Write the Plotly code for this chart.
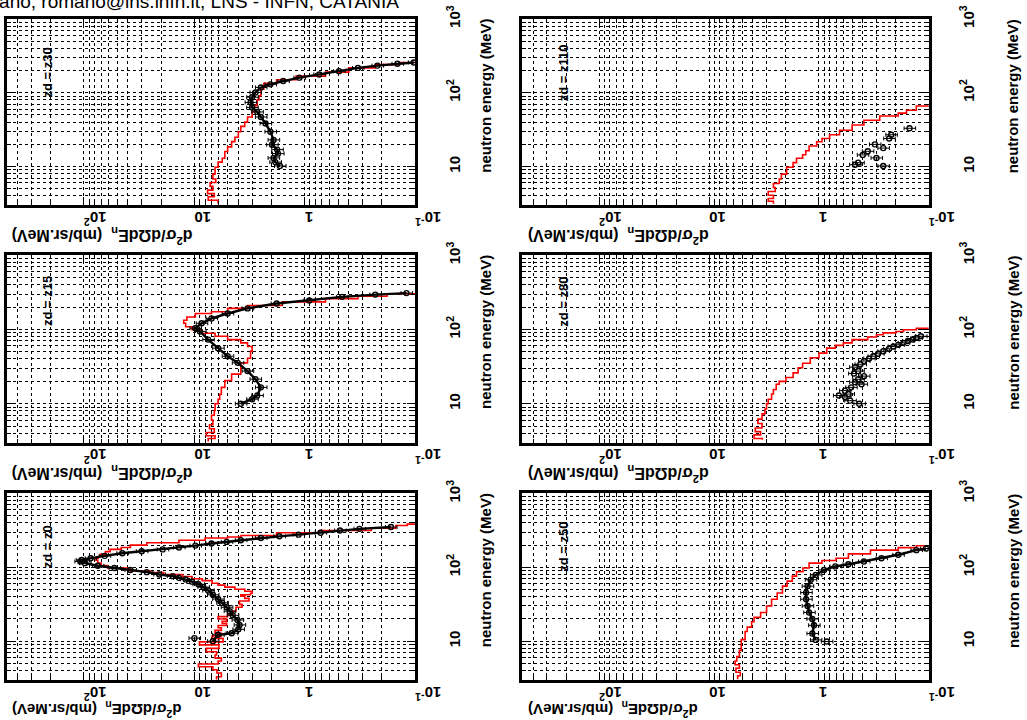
import math
import plotly.graph_objects as go

W, H = 1027, 720

# ---------------- data ----------------
# neutron energy (MeV) and d2sigma/dOmega dE (mb/sr.MeV)
z0_exp_E = [11.0, None, 10.0, 12.2, 12.8, 14.5, 16.6, 19.4, 22.4, 25.5, 28.8, 33, 37.2, 42.5, 48.5, 54, 59, 64, 68.6, 72, 76, 80, 86, 92, 98, 105, 114, 120, 126, 133, 143, 155, 165, 175, 186, 197, 210, 221, 233, 250, 263, 277, 294, 316, 332, 351]
z0_exp_V = [10.0, None, 6.8, 6.1, 4.6, 4.0, 3.9, 4.07, 4.5, 4.8, 5.1, 5.6, 6.1, 6.8, 7.5, 8.3, 9.2, 10.5, 12, 13.8, 15.7, 20.8, 27, 38, 53, 75, 98, 108, 105, 87, 65, 45, 30, 19.4, 13.8, 9.8, 7.0, 5.1, 3.8, 2.5, 1.7, 1.14, 0.72, 0.48, 0.32, 0.166]
z0_calc_E = [3.0, 3.3, 3.7, 4.1, 4.5, 4.9, 5.4, 5.9, 6.5, 7.2, 8.0, 8.9, 9.8, 10.9, 11.8, 12.8, 14, 15.2, 16.3, 17.4, 18.6, 20, 21.5, 23, 25.5, 28.8, 31.5, 35, 38, 40.6, 42.5, 44.6, 47.5, 50.6, 54, 57.5, 61, 66, 70, 75, 80, 85, 89, 98, 106, 114, 125, 133, 140, 150, 163, 175, 186, 200, 215, 233, 250, 258, 270, 294, 316, 340, 368, 385]
z0_calc_V = [6.3, 5.7, 6.25, 6.8, 9.2, 6.1, 5.7, 6.5, 6.3, 7.8, 6.0, 9.0, 5.5, 6.9, 5.7, 6.5, 5.7, 6.1, 5.1, 5.6, 5.1, 6.1, 5.0, 4.5, 4.2, 3.7, 3.9, 3.2, 3.5, 3.8, 3.1, 3.0, 3.5, 4.3, 5.3, 6.1, 6.9, 8.5, 10.5, 12.8, 19, 25, 38, 61, 70, 75, 78, 74, 71, 64, 58, 46, 38, 27, 13.8, 8.0, 5.0, 3.78, 1.8, 0.74, 0.25, 0.15, 0.118, 0.1]

z15_exp_E = [10, 11.5, 12.9, 16.6, 21.4, 27.5, 35.5, 43.6, 56, 73, 94, 104, 121, 141, 164, 192, 224, 246, 275, 295, 309]
z15_exp_V = [3.8, 3.0, 2.7, 2.5, 2.8, 3.3, 4.05, 5.0, 6.1, 7.5, 8.9, 9.8, 8.6, 7.0, 5.0, 3.3, 1.8, 0.91, 0.46, 0.23, 0.12]
z15_calc_E = [3.1, 3.4, 3.7, 4.1, 4.6, 5.2, 6.0, 7.0, 8.1, 10, 11.5, 13.4, 16.6, 20.5, 23, 25, 30, 35.5, 41, 51, 59, 66, 73, 81, 89, 99, 109, 121, 133, 147, 164, 173, 192, 210, 235, 260, 280, 303]
z15_calc_V = [7.5, 6.5, 7.8, 6.6, 7.3, 6.8, 7.0, 6.6, 6.5, 6.1, 5.9, 5.7, 5.3, 4.6, 4.6, 3.8, 3.8, 3.3, 3.1, 3.0, 3.3, 3.8, 5.0, 6.5, 8.6, 10.5, 12, 12.5, 11.7, 9.8, 7.0, 5.0, 3.3, 1.6, 0.65, 0.33, 0.18, 0.10]

z30_exp_E = [10.2, 11.5, 13.1, 15, 17, 19.8, 23, 29.7, 38.3, 47, 55, 63, 74, 87, 101, 118, 130, 144, 160, 177, 196, 217, 233, 247, 257]
z30_exp_V = [1.68, 1.85, 1.92, 1.75, 1.78, 1.98, 1.92, 2.05, 2.27, 2.5, 2.7, 3.0, 3.1, 3.0, 2.8, 2.5, 2.05, 1.57, 1.12, 0.74, 0.49, 0.33, 0.22, 0.145, 0.103]
z30_calc_E = [3.15, 3.5, 3.9, 4.3, 4.8, 5.4, 6.1, 6.8, 7.9, 9.8, 11.5, 13, 16, 18.5, 21.8, 25, 29.7, 35, 40, 47, 55, 67, 80, 91, 112, 134, 150, 168, 190, 217, 240, 257]
z30_calc_V = [6.1, 7.5, 6.6, 7.6, 6.8, 7.2, 6.4, 6.8, 6.5, 6.1, 5.6, 5.3, 5.0, 4.6, 4.3, 4.0, 3.8, 3.5, 3.3, 3.0, 2.85, 2.7, 2.6, 2.5, 2.35, 1.8, 1.2, 0.65, 0.4, 0.23, 0.14, 0.1]

z50_exp_E = [9.9, None, 10.4, 12.7, 16.4, 20, 24.5, 30, 37, 45.5, 55.6, 68, 79, 92, 103, 110, 120, 133, 148, 171, 180]
z50_exp_V = [0.85, None, 1.07, 1.15, 1.11, 1.15, 1.23, 1.27, 1.31, 1.31, 1.27, 1.19, 1.07, 0.9, 0.71, 0.54, 0.39, 0.27, 0.19, 0.13, 0.106]
z50_calc_E = [3.06, 3.4, 3.8, 4.3, 4.8, 5.4, 6.2, 7.5, 8.9, 10.5, 13.5, 15.5, 18.3, 21, 24.5, 30, 37, 45, 55.6, 65, 76, 87, 98, 114, 124, 133, 152, 171, 185, 196]
z50_calc_V = [5.5, 5.2, 5.7, 5.3, 5.8, 5.6, 5.3, 5.1, 5.1, 4.7, 4.5, 4.1, 3.9, 3.4, 3.0, 2.7, 2.4, 2.15, 1.95, 1.75, 1.6, 1.4, 1.23, 0.94, 0.7, 0.54, 0.34, 0.19, 0.13, 0.1]

z80_exp_E = [10.0, 11.0, 12.3, 12.9, 13.5, 15, 16.6, 18.3, 19.5, 21.3, 23.5, 25.5, 27.5, 31, 34, 37.5, 40.5, 43.6, 47, 51, 55, 59, 62, 66, 70, 73, 77, 81]
z80_exp_V = [0.43, 0.52, 0.58, 0.66, 0.54, 0.58, 0.51, 0.41, 0.47, 0.44, 0.39, 0.48, 0.44, 0.47, 0.42, 0.39, 0.35, 0.32, 0.29, 0.26, 0.23, 0.21, 0.19, 0.17, 0.155, 0.14, 0.13, 0.118]
z80_calc_E = [3.26, 3.4, 3.8, 4.2, 4.7, 5.4, 6.2, 7.3, 8.5, 10, 11.5, 13.5, 15.5, 18.3, 20, 22.5, 26, 30.5, 35, 41.6, 48, 56, 61, 66, 73, 79, 85, 90, 94, 99, 104]
z80_calc_V = [3.28, 3.9, 3.4, 3.8, 3.3, 3.6, 3.3, 3.1, 3.0, 2.9, 2.7, 2.6, 2.45, 2.3, 2.0, 1.72, 1.55, 1.41, 1.2, 1.0, 0.85, 0.71, 0.6, 0.5, 0.36, 0.3, 0.26, 0.2, 0.17, 0.13, 0.1]

z110_exp_E = [10.2, 10.6, 11.3, 13.1, 14.4, 16.1, 17.8, 20, 24, 27, 33]
z110_exp_V = [0.26, 0.47, 0.44, 0.30, 0.40, 0.36, 0.26, 0.31, 0.23, 0.22, 0.15]
z110_calc_E = [3.15, 3.4, 3.7, 4.1, 4.6, 5.2, 5.9, 6.8, 7.9, 9.8, 11.3, 13, 14.5, 16.4, 19, 21.7, 24, 27, 31, 36.5, 42.5, 48.5, 53, 58, 66]
z110_calc_V = [2.6, 2.9, 2.6, 2.9, 2.5, 2.6, 2.3, 2.2, 1.97, 1.72, 1.6, 1.41, 1.32, 1.23, 1.05, 0.94, 0.8, 0.65, 0.5, 0.39, 0.28, 0.19, 0.16, 0.13, 0.1]

panel_labels = ["zd = z0", "zd = z15", "zd = z30", "zd = z50", "zd = z80", "zd = z110"]

E_tickvals = [10, 100, 1000]
E_ticktext = ["<b>10</b>", "<b>10<sup>2</sup></b>", "<b>10<sup>3</sup></b>"]
V_tickvals = [0.1, 1, 10, 100]
V_ticktext = ["<b>10<sup>-1</sup></b>", "<b>1</b>", "<b>10</b>", "<b>10<sup>2</sup></b>"]

E_range = [3, 1000]
V_range = [500, 0.1]

x_title = "<b>neutron energy (MeV)</b>"
y_title = "<b>d<sup>2</sup>σ/dΩdE<sub>n</sub>  (mb/sr.MeV)</b>"
header = "Romano, romano@lns.infn.it, LNS - INFN, CATANIA"

# ---------------- layout geometry (pixels) ----------------
COLS = [(7, 426), (536, 953)]
ROWS = [(5, 195), (246, 437), (489, 679)]

panels = [
    (z0_exp_E, z0_exp_V, z0_calc_E, z0_calc_V, 0, 2, "lines+markers"),
    (z15_exp_E, z15_exp_V, z15_calc_E, z15_calc_V, 0, 1, "lines+markers"),
    (z30_exp_E, z30_exp_V, z30_calc_E, z30_calc_V, 0, 0, "lines+markers"),
    (z50_exp_E, z50_exp_V, z50_calc_E, z50_calc_V, 1, 2, "lines+markers"),
    (z80_exp_E, z80_exp_V, z80_calc_E, z80_calc_V, 1, 1, "markers"),
    (z110_exp_E, z110_exp_V, z110_calc_E, z110_calc_V, 1, 0, "markers"),
]

FONT = "Liberation Sans, Arial, Helvetica, sans-serif"

def px_x(p):
    return p / W

def px_y(p):
    return 1 - p / H

def minor_vals(lo, hi):
    out = []
    for d in range(-2, 4):
        for m in range(2, 10):
            v = m * 10 ** d
            if lo <= v <= hi:
                out.append(v)
    return out

fig = go.Figure()
layout = dict(
    width=W, height=H, autosize=False,
    margin=dict(l=0, r=0, t=0, b=0),
    paper_bgcolor="white", plot_bgcolor="white",
    showlegend=False,
    font=dict(family=FONT, size=16, color="black"),
)
annotations = []

for k, (eE, eV, cE, cV, col, row, emode) in enumerate(panels, start=1):
    xs = "x" if k == 1 else f"x{k}"
    ys = "y" if k == 1 else f"y{k}"
    xa = "xaxis" if k == 1 else f"xaxis{k}"
    ya = "yaxis" if k == 1 else f"yaxis{k}"
    cx0, cx1 = COLS[col]
    ry0, ry1 = ROWS[row]

    fig.add_trace(go.Scatter(
        x=cV, y=cE, xaxis=xs, yaxis=ys, mode="lines",
        line=dict(color="red", width=1.6, shape="vh"), hoverinfo="skip"))
    fig.add_trace(go.Scatter(
        x=eV, y=eE, xaxis=xs, yaxis=ys, mode=emode,
        line=dict(color="black", width=2.4),
        marker=dict(symbol="circle-open", size=5, color="black", line=dict(width=1.4)),
        error_x=dict(type="percent", value=12, color="black", thickness=1, width=2),
        connectgaps=False, hoverinfo="skip"))

    common = dict(
        type="log", showline=True, linecolor="black", linewidth=2.5, mirror="allticks",
        ticks="inside", ticklen=8, tickwidth=1.2, tickcolor="black",
        showgrid=True, gridcolor="black", griddash="dot", gridwidth=1,
        zeroline=False,
    )
    layout[xa] = dict(
        common,
        domain=[px_x(cx0), px_x(cx1)], anchor=ys,
        range=[math.log10(V_range[0]), math.log10(V_range[1])],
        tickmode="array", tickvals=V_tickvals, ticktext=V_ticktext,
        tickangle=180, ticklabelstandoff=1,
        tickfont=dict(family=FONT, size=15, color="black"),
        minor=dict(tickmode="array", tickvals=minor_vals(V_range[1], V_range[0]),
                   ticks="inside", ticklen=4, tickcolor="black",
                   showgrid=True, gridcolor="black", griddash="dot", gridwidth=1),
    )
    layout[ya] = dict(
        common,
        domain=[px_y(ry1), px_y(ry0)], anchor=xs, side="right",
        range=[math.log10(E_range[0]), math.log10(E_range[1])],
        tickmode="array", tickvals=E_tickvals, ticktext=E_ticktext,
        tickangle=-90, ticklabelstandoff=24,
        tickfont=dict(family=FONT, size=15, color="black"),
        minor=dict(tickmode="array", tickvals=minor_vals(E_range[0], E_range[1]),
                   ticks="inside", ticklen=4, tickcolor="black",
                   showgrid=True, gridcolor="black", griddash="dot", gridwidth=1),
    )

    # panel label
    label_y = {0: ry0 + 55, 1: ry0 + 47, 2: ry0 + 54}[row]
    annotations.append(dict(
        text="<b>" + panel_labels[k - 1] + "</b>", textangle=-90, showarrow=False,
        xref="paper", yref="paper", x=px_x(cx0 + 42), y=px_y(label_y),
        xanchor="center", yanchor="middle",
        font=dict(family=FONT, size=13, color="black")))
    # energy axis title
    annotations.append(dict(
        text=x_title, textangle=-90, showarrow=False,
        xref="paper", yref="paper", x=px_x(cx1 + 58), y=px_y(ry0 - 2),
        xanchor="center", yanchor="top", xshift=14 if col == 0 else 28,
        font=dict(family=FONT, size=15, color="black")))
    # cross-section axis title
    title_off = 32 if row < 2 else 31
    annotations.append(dict(
        text=y_title, textangle=180, showarrow=False,
        xref="paper", yref="paper", x=px_x(cx0 + 3), y=px_y(ry1 + title_off),
        xanchor="left", yanchor="middle",
        font=dict(family=FONT, size=15 if row == 2 else 16, color="black")))

annotations.append(dict(
    text=header, showarrow=False, xref="paper", yref="paper",
    x=px_x(411), y=px_y(12), xanchor="right", yanchor="bottom", yshift=12,
    font=dict(family=FONT, size=19, color="black")))

layout["annotations"] = annotations
fig.update_layout(**layout)

fig.write_html("out.html", config={"displayModeBar": False},
               post_script="document.body.style.margin='0';")
